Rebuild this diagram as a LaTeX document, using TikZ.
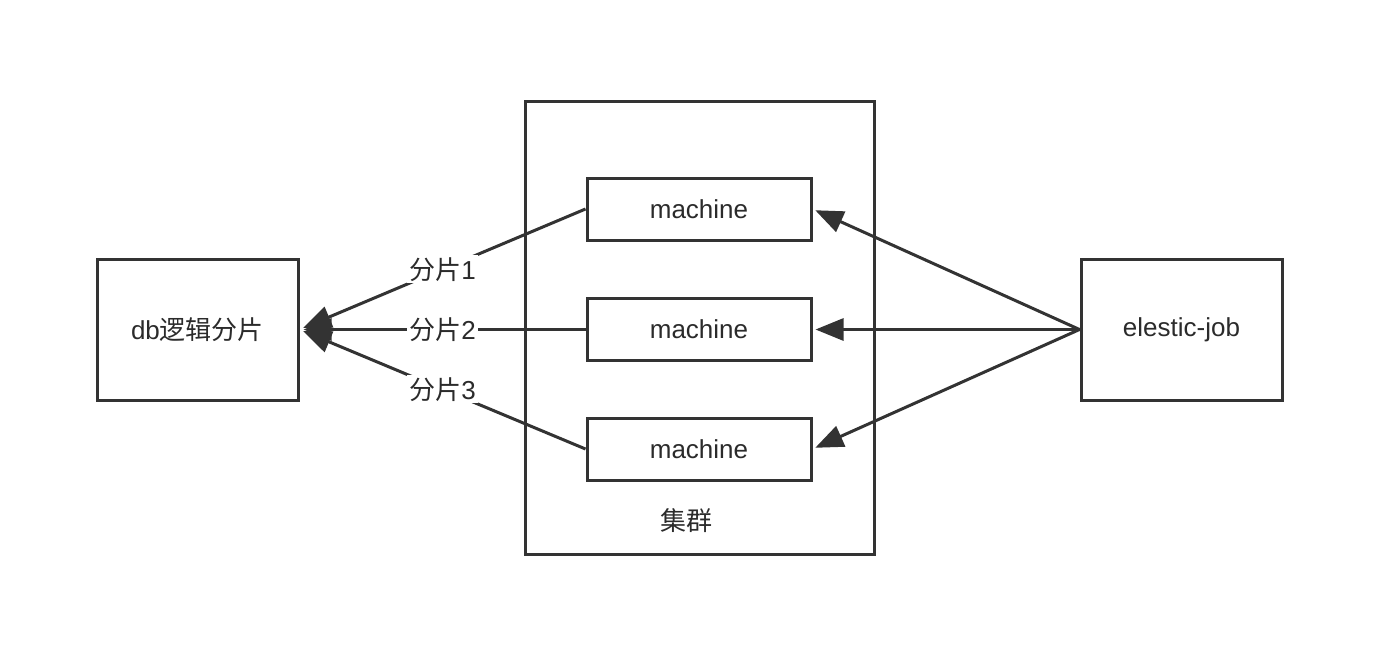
\documentclass[tikz,border=0pt]{standalone}
\usepackage{fontspec}
\setmainfont{Liberation Sans}
\newfontfamily\cjk{Noto Sans CJK SC}
\usetikzlibrary{arrows.meta,positioning}
\definecolor{linegray}{HTML}{333333}
\definecolor{textgray}{HTML}{2B2B2B}

\begin{document}
\begin{tikzpicture}[x=0.5pt,y=-0.5pt,
  every node/.style={font=\fontsize{13}{15}\selectfont,text=textgray},
  box/.style={draw=linegray,line width=1.5pt,minimum width=100.5pt,minimum height=70.5pt,inner sep=0pt},
  machinebox/.style={draw=linegray,line width=1.5pt,minimum width=112pt,minimum height=31pt,inner sep=0pt},
  arr/.style={draw=linegray,line width=1.5pt,-{Triangle[length=14pt,width=11pt]}},
  lbl/.style={fill=white,inner sep=1pt}]
\useasboundingbox (0,0) rectangle (1386,648);
\node[draw=linegray,line width=1.5pt,minimum width=174.5pt,minimum height=226.5pt,inner sep=0pt] (cluster) at (699.5,327.5) {};
\node (clusterlabel) at (686,521) {\cjk 集群};
\node[box] (db) at (197.5,329.5) {db{\cjk 逻辑分片}};
\node[box] (job) at (1181.5,329.5) {elestic-job};
\node[machinebox] (m1) at (699,209) {machine};
\node[machinebox] (m2) at (699,329.5) {machine};
\node[machinebox] (m3) at (699,449) {machine};
% shards to the db
\draw[arr,shorten >=2pt] (m1.west) -- node[lbl] {{\cjk 分片}1} (db.east);
\draw[arr,shorten >=2pt] (m2.west) -- node[lbl] {{\cjk 分片}2} (db.east);
\draw[arr,shorten >=2pt] (m3.west) -- node[lbl] {{\cjk 分片}3} (db.east);
% job to the machines
\draw[arr,shorten >=1.5pt] (job.west) -- (m1.east);
\draw[arr,shorten >=1.5pt] (job.west) -- (m2.east);
\draw[arr,shorten >=1.5pt] (job.west) -- (m3.east);
\end{tikzpicture}
\end{document}
